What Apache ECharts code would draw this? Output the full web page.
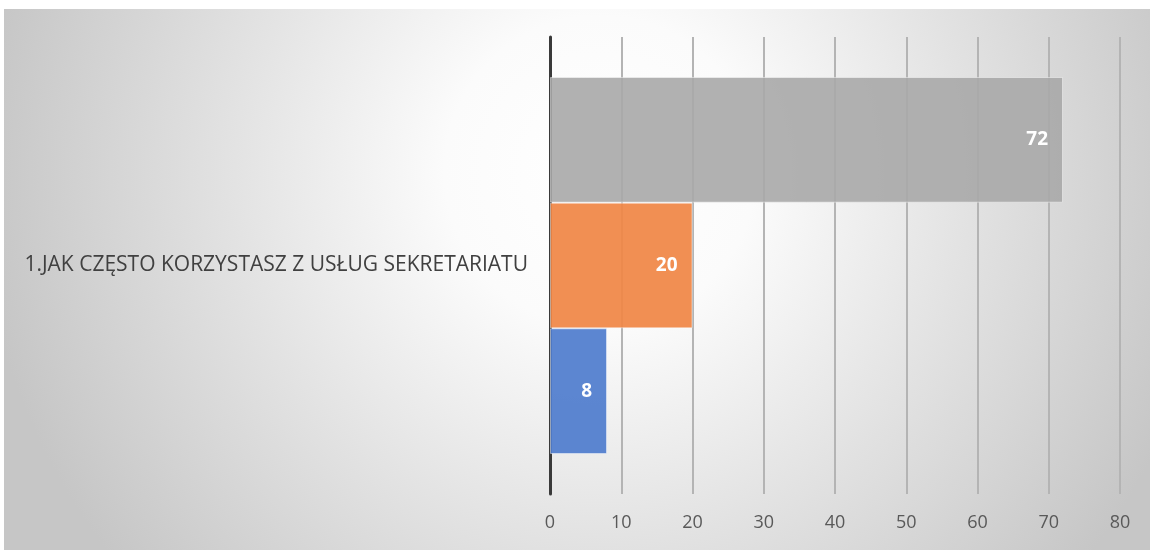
<!DOCTYPE html>
<html lang="pl">
<head>
  <meta charset="UTF-8">
  <title>Chart</title>
  <style>
    html, body { margin: 0; padding: 0; background: #fff; }
    #chart { width: 1150px; height: 550px; }
  </style>
</head>
<body>
  <div id="chart"></div>
  <script src="https://cdn.jsdelivr.net/npm/echarts@6/dist/echarts.min.js"></script>
  <script>
    const categories = ['1.JAK CZĘSTO KORZYSTASZ Z USŁUG SEKRETARIATU']
    // top to bottom as drawn
    const seriesNames = ['C', 'B', 'A']
    const seriesValues = [[72], [20], [8]]
    const seriesColors = ['rgba(168,168,168,0.9)', 'rgba(240,135,70,0.93)', 'rgba(80,125,205,0.93)']
    const xTicks = { min: 0, max: 80, interval: 10 }

    const chart = echarts.init(document.querySelector('#chart'))
    const option = {
      animation: false,
      textStyle: { fontFamily: 'Open Sans' },
      graphic: [{
        type: 'rect',
        z: -10,
        silent: true,
        shape: { x: 4, y: 9, width: 1146, height: 541 },
        style: {
          fill: {
            type: 'radial', x: 0.52, y: 0.3, r: 1.15,
            colorStops: [
              { offset: 0, color: '#ffffff' },
              { offset: 0.25, color: '#fbfbfb' },
              { offset: 0.6, color: '#e2e2e2' },
              { offset: 1, color: '#c6c6c6' }
            ]
          }
        }
      }],
      grid: { left: 550, right: 30, top: 37, bottom: 56 },
      xAxis: {
        type: 'value',
        min: xTicks.min,
        max: xTicks.max,
        interval: xTicks.interval,
        axisLine: { show: false },
        axisTick: { show: false },
        axisLabel: { color: '#595959', fontSize: 18, margin: 20 },
        splitLine: { lineStyle: { color: '#b4b4b4', width: 2 } }
      },
      yAxis: {
        type: 'category',
        data: categories,
        axisLine: { lineStyle: { color: '#3a3a3a', width: 3 } },
        axisTick: { show: false },
        axisLabel: { color: '#404040', fontSize: 21, margin: 22 }
      },
      series: seriesNames.map((name, i) => ({
        name,
        type: 'bar',
        data: seriesValues[i],
        barGap: '0%',
        barCategoryGap: '17.5%',
        itemStyle: {
          color: seriesColors[i],
          borderColor: 'rgba(255,255,255,0.45)',
          borderWidth: 1
        },
        label: {
          show: true,
          position: 'insideRight',
          distance: 15,
          color: '#ffffff',
          fontWeight: 'bold',
          fontSize: 19
        }
      }))
    }
    chart.setOption(option)
  </script>
</body>
</html>
